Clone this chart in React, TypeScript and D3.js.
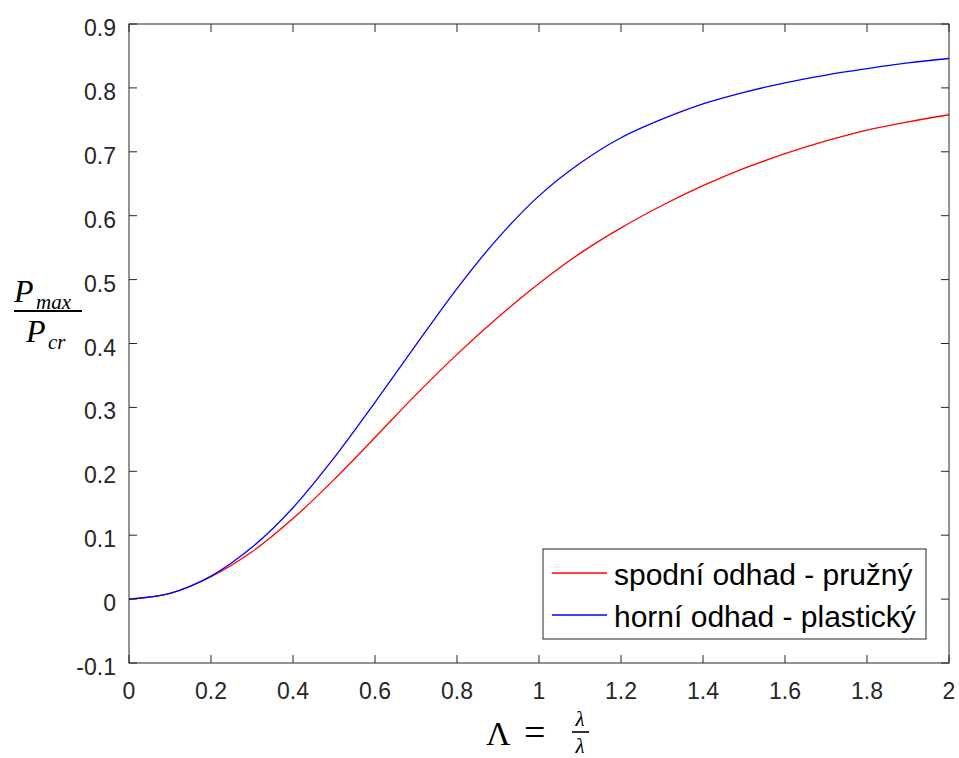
import * as d3 from "d3";
import React from "react";

const lambdaRatio = [0, 0.1, 0.2, 0.3, 0.4, 0.5, 0.6, 0.7, 0.8, 0.9, 1.0, 1.1, 1.2, 1.3, 1.4, 1.5, 1.6, 1.7, 1.8, 1.9, 2.0];
const lowerElastic = [0, 0.009, 0.035, 0.074, 0.126, 0.187, 0.253, 0.32, 0.383, 0.441, 0.494, 0.541, 0.581, 0.616, 0.647, 0.674, 0.697, 0.717, 0.734, 0.747, 0.758];
const upperPlastic = [0, 0.009, 0.036, 0.081, 0.143, 0.221, 0.308, 0.398, 0.486, 0.565, 0.631, 0.682, 0.722, 0.751, 0.775, 0.793, 0.808, 0.82, 0.83, 0.839, 0.846];

const seriesNames = ["spodní odhad - pružný", "horní odhad - plastický"];
const seriesColors = ["#ff0000", "#0000ff"];
const xTicks = [0, 0.2, 0.4, 0.6, 0.8, 1, 1.2, 1.4, 1.6, 1.8, 2];
const yTicks = [-0.1, 0, 0.1, 0.2, 0.3, 0.4, 0.5, 0.6, 0.7, 0.8, 0.9];

const W = 959;
const H = 758;
const margin = { left: 129, right: 10, top: 24, bottom: 95 };
const axisColor = "#262626";
const sans = "'Liberation Sans', Arial, sans-serif";
const serif = "'Liberation Serif', 'DejaVu Serif', serif";

// matlab style: plain hyphen for negatives
const fmt = (t: number) => d3.format("~g")(t).replace("\u2212", "-");

export default function App() {
  const x = d3.scaleLinear().domain([0, 2]).range([margin.left, W - margin.right]);
  const y = d3.scaleLinear().domain([-0.1, 0.9]).range([H - margin.bottom, margin.top]);

  const line = d3
    .line<number>()
    .x((_, i) => x(lambdaRatio[i]))
    .y((d) => y(d))
    .curve(d3.curveCatmullRom.alpha(0.5));

  const series = [lowerElastic, upperPlastic];
  const [x0, x1] = x.range();
  const [y0, y1] = y.range();
  const tick = 8;

  const lg = { x: 543, y: 549, w: 383, h: 90 };

  return (
    <svg
      width={W}
      height={H}
      style={{ position: "absolute", left: 0, top: 0, background: "#fff" }}
    >
      <rect x={0} y={0} width={W} height={H} fill="#fff" />
      <g>
        {series.map((s, i) => (
          <path key={i} d={line(s) || ""} fill="none" stroke={seriesColors[i]} strokeWidth={1.3} />
        ))}
      </g>

      {/* axes box */}
      <rect x={x0} y={y1} width={x1 - x0} height={y0 - y1} fill="none" stroke={axisColor} strokeWidth={1} />
      {xTicks.map((t) => (
        <g key={"x" + t}>
          <line x1={x(t)} x2={x(t)} y1={y0} y2={y0 - tick} stroke={axisColor} />
          <line x1={x(t)} x2={x(t)} y1={y1} y2={y1 + tick} stroke={axisColor} />
          <text x={x(t)} y={y0 + 36} textAnchor="middle" fontFamily={sans} fontSize={23} fill={axisColor}>
            {fmt(t)}
          </text>
        </g>
      ))}
      {yTicks.map((t) => (
        <g key={"y" + t}>
          <line x1={x0} x2={x0 + tick} y1={y(t)} y2={y(t)} stroke={axisColor} />
          <line x1={x1} x2={x1 - tick} y1={y(t)} y2={y(t)} stroke={axisColor} />
          <text x={x0 - 13} y={y(t) + 12} textAnchor="end" fontFamily={sans} fontSize={23} fill={axisColor}>
            {fmt(t)}
          </text>
        </g>
      ))}

      {/* legend */}
      <rect x={lg.x} y={lg.y} width={lg.w} height={lg.h} fill="#fff" stroke={axisColor} strokeWidth={1} />
      {seriesNames.map((name, i) => (
        <g key={name}>
          <line x1={552} x2={607} y1={573 + i * 42} y2={573 + i * 42} stroke={seriesColors[i]} strokeWidth={1.3} />
          <text x={614} y={585 + i * 42} fontFamily={sans} fontSize={30} fill="#000">
            {name}
          </text>
        </g>
      ))}

      {/* x label */}
      <g fontFamily={serif} fill="#000">
        <text x={486} y={745} fontSize={34}>Λ</text>
        <text x={524} y={745} fontSize={38} fontWeight={300}>=</text>
        <text x={580} y={726} fontSize={21} fontStyle="italic" textAnchor="middle">λ</text>
        <line x1={572} x2={589} y1={732} y2={732} stroke="#000" strokeWidth={1.6} />
        <text x={580} y={753} fontSize={21} fontStyle="italic" textAnchor="middle">λ</text>
      </g>

      {/* y label */}
      <g fontFamily={serif} fill="#000" fontStyle="italic">
        <text x={14} y={302} fontSize={32}>P</text>
        <text x={36} y={309} fontSize={21}>max</text>
        <line x1={14} x2={82} y1={311} y2={311} stroke="#000" strokeWidth={1.8} />
        <text x={26} y={342} fontSize={32}>P</text>
        <text x={48} y={349} fontSize={21}>cr</text>
      </g>
    </svg>
  );
}
